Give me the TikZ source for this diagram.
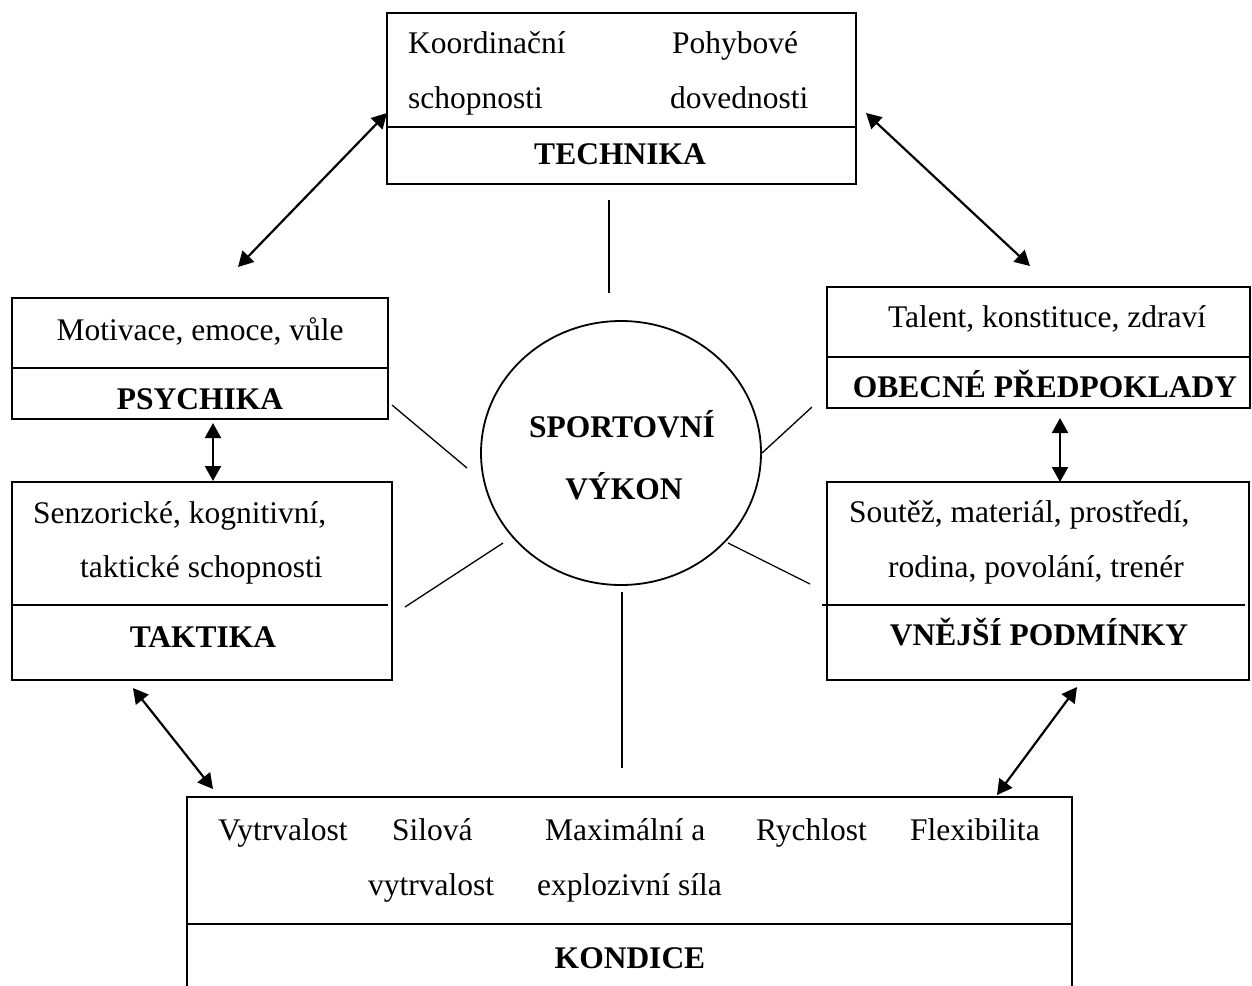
\documentclass[tikz,border=0pt]{standalone}
\usepackage{fontspec}
\setmainfont{Liberation Serif}
\usetikzlibrary{arrows.meta,shapes.geometric}
\begin{document}
\begin{tikzpicture}[x=1pt,y=-1pt,
  box/.style={draw,line width=1.8pt,rectangle,inner sep=0pt,outer sep=0pt},
  divider/.style={line width=1.8pt},
  txt/.style={inner sep=0pt,font=\fontsize{31.5}{38}\selectfont},
  hd/.style={inner sep=0pt,font=\fontsize{31.5}{38}\selectfont\bfseries},
  spoke/.style={line width=1.3pt},
  dbl/.style={line width=2.2pt,{Triangle[length=15pt,width=16pt]}-{Triangle[length=15pt,width=16pt]}}]
\useasboundingbox (0,0) rectangle (1252,985);

% ---------- boxes ----------
\node[box,minimum width=469pt,minimum height=171pt] (tech) at (621.5,98.5) {};
\draw[divider] (387,127) -- (856,127);
\node[box,minimum width=376pt,minimum height=121pt] (psy) at (200,358.5) {};
\draw[divider] (12,368) -- (388,368);
\node[box,minimum width=380pt,minimum height=198pt] (tak) at (202,581) {};
\draw[divider] (12,605) -- (388,605);
\node[box,minimum width=423pt,minimum height=121pt] (obe) at (1038.5,347.5) {};
\draw[divider] (827,357) -- (1250,357);
\node[box,minimum width=422pt,minimum height=198pt] (vne) at (1038,581) {};
\draw[divider] (822,605) -- (1245,605);
% open bottom box
\coordinate (konBL) at (187,990);
\coordinate (konTL) at (187,797);
\coordinate (konTR) at (1072,797);
\coordinate (konBR) at (1072,990);
\draw[line width=1.8pt] (konBL) -- (konTL) -- (konTR) -- (konBR);
\draw[divider] (187,924) -- (1072,924);

% ---------- centre ----------
\node[draw,ellipse,line width=1.8pt,minimum width=280pt,minimum height=264pt,inner sep=0pt] (sv) at (621,453) {};
\node[hd,anchor=base] (sv1) at (622,437) {SPORTOVNÍ};
\node[hd,anchor=base] (sv2) at (624,499) {VÝKON};

% ---------- texts ----------
\node[txt,anchor=base west] (t1) at (408,53) {Koordinační};
\node[txt,anchor=base west] (t2) at (408,108) {schopnosti};
\node[txt,anchor=base west] (t3) at (672,53) {Pohybové};
\node[txt,anchor=base west] (t4) at (670,108) {dovednosti};
\node[hd,anchor=base] (t5) at (620,164) {TECHNIKA};

\node[txt,anchor=base] (p1) at (200,340) {Motivace, emoce, vůle};
\node[hd,anchor=base] (p2) at (200,409) {PSYCHIKA};

\node[txt,anchor=base west] (k1) at (33,523) {Senzorické, kognitivní,};
\node[txt,anchor=base west] (k2) at (80,577) {taktické schopnosti};
\node[hd,anchor=base] (k3) at (203,647) {TAKTIKA};

\node[txt,anchor=base] (o1) at (1047,327) {Talent, konstituce, zdraví};
\node[hd,anchor=base] (o2) at (1045,397) {OBECNÉ PŘEDPOKLADY};

\node[txt,anchor=base west] (v1) at (849,522) {Soutěž, materiál, prostředí,};
\node[txt,anchor=base west] (v2) at (888,577) {rodina, povolání, trenér};
\node[hd,anchor=base] (v3) at (1039,645) {VNĚJŠÍ PODMÍNKY};

\node[txt,anchor=base west] (c1) at (218,840) {Vytrvalost};
\node[txt,anchor=base west] (c2) at (392,840) {Silová};
\node[txt,anchor=base west] (c3) at (368,895) {vytrvalost};
\node[txt,anchor=base west] (c4) at (545,840) {Maximální a};
\node[txt,anchor=base west] (c5) at (537,895) {explozivní síla};
\node[txt,anchor=base west] (c6) at (756,840) {Rychlost};
\node[txt,anchor=base west] (c7) at (910,840) {Flexibilita};
\node[hd,anchor=base] (c8) at (630,968) {KONDICE};

% ---------- spokes ----------
\coordinate (sT1) at (609,200);  \coordinate (sT2) at (609,293);
\coordinate (sUL1) at (392,405); \coordinate (sUL2) at (467,468);
\coordinate (sUR1) at (762,453); \coordinate (sUR2) at (812,407);
\coordinate (sLL1) at (405,607); \coordinate (sLL2) at (503,543);
\coordinate (sLR1) at (728,543); \coordinate (sLR2) at (810,584);
\coordinate (sB1) at (622,592);  \coordinate (sB2) at (622,768);
\draw[spoke] (sT1) -- (sT2);
\draw[spoke] (sUL1) -- (sUL2);
\draw[spoke] (sUR1) -- (sUR2);
\draw[spoke] (sLL1) -- (sLL2);
\draw[spoke] (sLR1) -- (sLR2);
\draw[spoke] (sB1) -- (sB2);

% ---------- arrows ----------
\coordinate (aTP1) at (387,113);  \coordinate (aTP2) at (238,267);
\coordinate (aTO1) at (866,113);  \coordinate (aTO2) at (1030,266);
\coordinate (aPT1) at (213,423);  \coordinate (aPT2) at (213,481);
\coordinate (aOV1) at (1060,418); \coordinate (aOV2) at (1060,482);
\coordinate (aTK1) at (133,688);  \coordinate (aTK2) at (213,789);
\coordinate (aVK1) at (1077,687); \coordinate (aVK2) at (997,795);
\draw[dbl] (aTP1) -- (aTP2);
\draw[dbl] (aTO1) -- (aTO2);
\draw[dbl] (aPT1) -- (aPT2);
\draw[dbl] (aOV1) -- (aOV2);
\draw[dbl] (aTK1) -- (aTK2);
\draw[dbl] (aVK1) -- (aVK2);
\end{tikzpicture}
\end{document}
